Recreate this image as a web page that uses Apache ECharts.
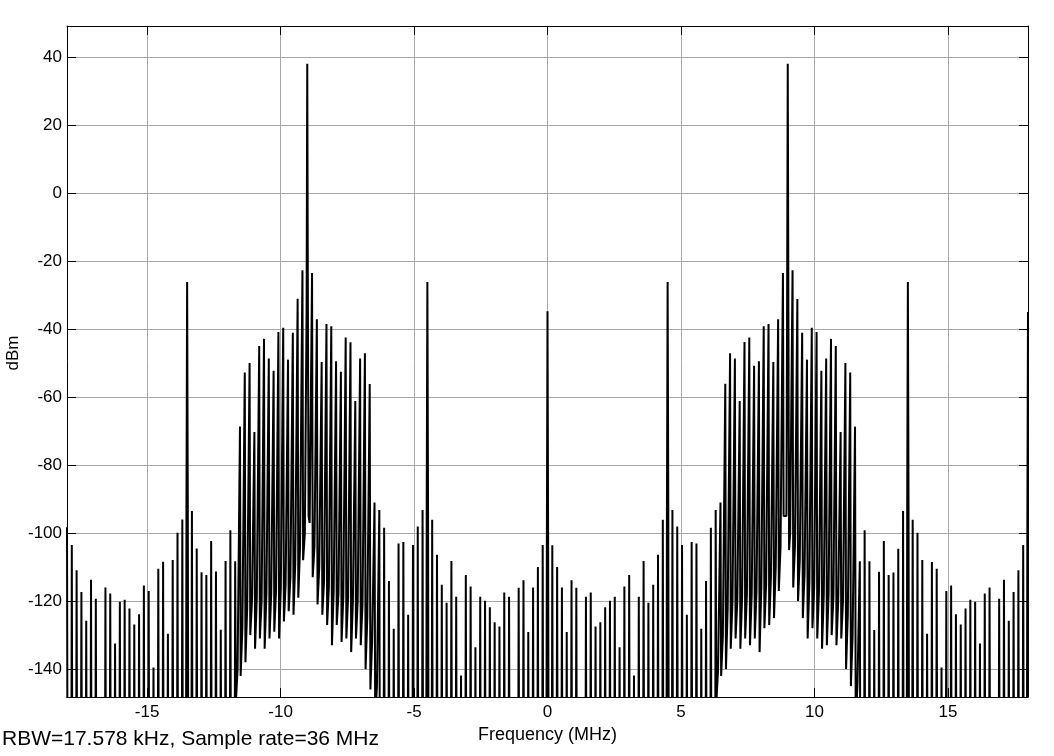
<!DOCTYPE html>
<html>
<head>
<meta charset="utf-8">
<script src="https://cdn.jsdelivr.net/npm/echarts@6/dist/echarts.min.js"></script>
<style>
  html, body { margin: 0; padding: 0; background: #fff; }
  #chart { width: 1054px; height: 756px; }
</style>
</head>
<body>
<div id="chart"></div>
<script>
// ---- data ----
const startMHz = -18;          // first spectral line
const stepMHz = 0.18;          // spacing of spectral lines
const peakDbm = [
  -98.3, -103.5, -110.9, -117.3, -125.8, -113.7, -119.3, -155, -116, -117.8,
  -132.5, -120.2, -119.6, -122.2, -126.9, -123.9, -115.4, -117, -139.5, -110.5,
  -108.4, -129.6, -107.9, -99.9, -96, -26.2, -93.5, -104.5, -111.5, -112.3,
  -102.3, -111.3, -128.4, -108.2, -99.2, -108.3, -68.7, -52.8, -50, -70.3,
  -45, -42.9, -48.7, -52.3, -40.9, -39.6, -49, -41.1, -31.1, -22.7,
  38, -23.5, -37.1, -49.7, -38.5, -39.2, -49.5, -52.6, -42.5, -43.9,
  -61.2, -48.7, -47.1, -56.2, -91, -93.2, -98.4, -114.1, -128.1, -103.1,
  -102.6, -124, -103.5, -98.1, -93.2, -26.2, -96.1, -106.4, -115.2, -120.5,
  -108.2, -118.7, -141.9, -112.3, -115.7, -133.6, -118.7, -119.9, -121.8, -126.2,
  -127.5, -117.5, -118.7, -155, -116.1, -113.9, -129.1, -116, -110, -103.5,
  -34.8, -103.6, -110, -116, -129.1, -113.9, -116.1, -155, -118.7, -117.5,
  -127.5, -126.2, -121.8, -119.9, -118.7, -133.6, -115.7, -112.3, -141.9, -118.7,
  -108.2, -120.5, -115.2, -106.4, -96.1, -26.2, -93.2, -98.1, -103.5, -124,
  -102.6, -103.1, -128.1, -114.1, -98.4, -93.2, -91, -56.1, -47.1, -48.7,
  -61.2, -43.8, -42.5, -50.8, -49.5, -39.2, -38.5, -49.7, -37.1, -23.5,
  38, -22.7, -31.2, -41.1, -49, -39.6, -40.9, -52.3, -48.7, -42.9,
  -45, -70.3, -50, -52.8, -68.7, -108.3, -99.2, -108.3, -128.5, -111.4,
  -102.3, -112.3, -111.6, -104.6, -93.5, -26.2, -96.1, -99.9, -107.9, -129.6,
  -108.5, -110.5, -139.5, -117, -115.4, -123.9, -126.9, -122.2, -119.6, -120.2,
  -132.5, -117.8, -116, -155, -119.3, -113.7, -125.8, -117.3, -110.9, -103.5,
  -35
];
// tones with a visible shoulder next to the line
const toneIdx = [25, 50, 75, 100, 125, 150, 175, 200];
const toneShoulderDbm = [-92, -35, -92, -106, -92, -35, -92, -100];
// noise floor between lines inside the two modulated bands
const bandLeftFirstGap = 35;
const bandLeftNoiseDbm = [-140, -128, -122, -120, -119, -120, -118, -118, -117, -116,
  -115, -113, -109, -104, -100, -97, -104, -110, -114, -116,
  -117, -118, -119, -119, -120, -120, -121, -125, -132, -145];
const bandLeftDipDbm = [-150, -142, -138, -130, -134, -131, -134, -131, -129, -131,
  -126, -123, -124, -119, -108, -95, -113, -121, -124, -127,
  -133, -127, -132, -131, -135, -131, -133, -140, -146, -155];
const bandRightFirstGap = 135;
const bandRightNoiseDbm = [-140, -130, -122, -120, -120, -119, -118, -118, -117, -116,
  -115, -113, -110, -104, -95, -100, -104, -108, -112, -115,
  -116, -117, -118, -118, -119, -120, -120, -124, -130, -145];
const bandRightDipDbm = [-150, -142, -140, -134, -131, -134, -131, -133, -131, -135,
  -128, -127, -125, -117, -95, -105, -116, -120, -125, -131,
  -128, -131, -134, -133, -130, -133, -131, -140, -145, -155];
const offScaleDbm = -200;      // trace falls below the visible range between lines

const xTickLabels = ['-15', '-10', '-5', '0', '5', '10', '15'];
const yTickLabels = ['-140', '-120', '-100', '-80', '-60', '-40', '-20', '0', '20', '40'];

// ---- build trace ----
function gapInfo(g) {
  if (g >= bandLeftFirstGap && g < bandLeftFirstGap + bandLeftNoiseDbm.length) {
    const k = g - bandLeftFirstGap;
    return { noise: bandLeftNoiseDbm[k], dip: bandLeftDipDbm[k], band: true };
  }
  if (g >= bandRightFirstGap && g < bandRightFirstGap + bandRightNoiseDbm.length) {
    const k = g - bandRightFirstGap;
    return { noise: bandRightNoiseDbm[k], dip: bandRightDipDbm[k], band: true };
  }
  return { noise: offScaleDbm, dip: offScaleDbm, band: false };
}
const halfWidth = 0.025;
const trace = [];
for (let i = 0; i < peakDbm.length; i++) {
  const f = +(startMHz + i * stepMHz).toFixed(4);
  const left = gapInfo(i - 1);
  const right = gapInfo(i);
  const t = toneIdx.indexOf(i);
  if (t >= 0) {
    trace.push([f - 2 * halfWidth, left.noise]);
    trace.push([f - halfWidth, toneShoulderDbm[t]]);
    trace.push([f, peakDbm[i]]);
    trace.push([f + halfWidth, toneShoulderDbm[t]]);
    if (i < peakDbm.length - 1) trace.push([f + 2 * halfWidth, right.dip]);
  } else {
    if (i > 0) trace.push([f - halfWidth, left.noise]);
    trace.push([f, peakDbm[i]]);
    if (i < peakDbm.length - 1) trace.push([f + halfWidth, right.dip]);
  }
  if (i < peakDbm.length - 1 && right.band) {
    trace.push([f + stepMHz / 2, right.noise]);
  }
}

const FONT = 'Liberation Sans, Arial, Helvetica, sans-serif';
const chart = echarts.init(document.getElementById('chart'), null, { renderer: 'canvas' });
const gridColor = '#a8a8a8';
const xMin = -18, xMax = 18, yMin = -148.2, yMax = 49.1;

chart.setOption({
  animation: false,
  backgroundColor: '#fff',
  grid: { left: 67, right: 26, top: 26, bottom: 59, show: false, containLabel: false, outerBoundsMode: 'none' },
  xAxis: [{
    type: 'value', min: xMin, max: xMax, splitNumber: 7, position: 'bottom',
    axisLine: { show: true, onZero: false, lineStyle: { color: '#000', width: 1 } },
    axisTick: { show: true, inside: true, length: 9, lineStyle: { color: '#000' } },
    axisLabel: {
      showMinLabel: false, showMaxLabel: false, color: '#000', fontSize: 17,
      fontFamily: FONT, margin: 7,
      formatter: v => xTickLabels.includes(String(v)) ? String(v) : ''
    },
    splitLine: { show: true, lineStyle: { color: gridColor, width: 1 } },
    name: 'Frequency (MHz)', nameLocation: 'middle', nameGap: 29,
    nameTextStyle: { color: '#000', fontSize: 18, fontFamily: FONT }
  }, {
    type: 'value', min: xMin, max: xMax, splitNumber: 7, position: 'top',
    axisLine: { show: true, onZero: false, lineStyle: { color: '#000', width: 1 } },
    axisTick: { show: true, inside: true, length: 9, lineStyle: { color: '#000' } },
    axisLabel: { show: false }, splitLine: { show: false }
  }],
  yAxis: [{
    type: 'value', min: yMin, max: yMax, splitNumber: 10, position: 'left',
    axisLine: { show: true, onZero: false, lineStyle: { color: '#000', width: 1 } },
    axisTick: { show: true, inside: true, length: 9, lineStyle: { color: '#000' } },
    axisLabel: {
      showMinLabel: false, showMaxLabel: false, color: '#000', fontSize: 17,
      fontFamily: FONT, margin: 5,
      formatter: v => yTickLabels.includes(String(v)) ? String(v) : ''
    },
    splitLine: { show: true, lineStyle: { color: gridColor, width: 1 } }
  }, {
    type: 'value', min: yMin, max: yMax, splitNumber: 10, position: 'right',
    axisLine: { show: true, onZero: false, lineStyle: { color: '#000', width: 1 } },
    axisTick: { show: true, inside: true, length: 9, lineStyle: { color: '#000' } },
    axisLabel: { show: false }, splitLine: { show: false }
  }],
  graphic: [{
    type: 'text', x: 13, y: 353, rotation: Math.PI / 2,
    style: { text: 'dBm', fill: '#000', font: '17px ' + FONT, align: 'center', verticalAlign: 'middle' }
  }, {
    type: 'text', left: 2, top: 729,
    style: { text: 'RBW=17.578 kHz, Sample rate=36 MHz', fill: '#000', font: '21px ' + FONT }
  }],
  series: [{
    type: 'line', xAxisIndex: 0, yAxisIndex: 0, data: trace,
    showSymbol: false, symbol: 'none', clip: true, sampling: null,
    lineStyle: { color: '#000', width: 2 },
    z: 5
  }]
});
</script>
</body>
</html>
